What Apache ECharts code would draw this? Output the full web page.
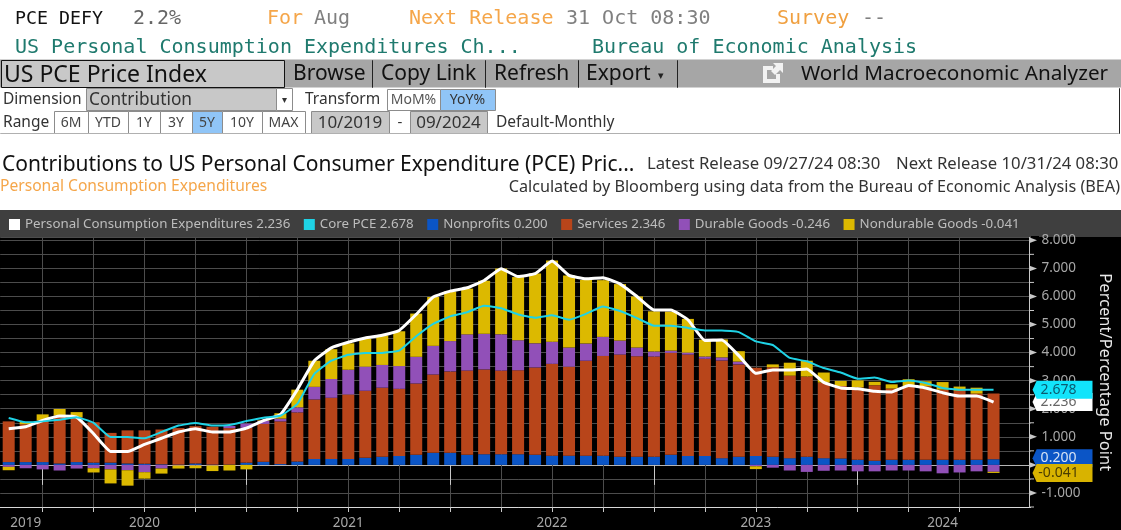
<!DOCTYPE html>
<html><head><meta charset="utf-8">
<style>html,body{margin:0;padding:0;background:#fff}#c{width:1121px;height:530px}</style>
<script src="https://cdn.jsdelivr.net/npm/echarts@6/dist/echarts.min.js"></script>
</head><body><div id="c"></div>
<script>
const months=['Oct 19','Nov 19','Dec 19','Jan 20','Feb 20','Mar 20','Apr 20','May 20','Jun 20','Jul 20','Aug 20','Sep 20','Oct 20','Nov 20','Dec 20','Jan 21','Feb 21','Mar 21','Apr 21','May 21','Jun 21','Jul 21','Aug 21','Sep 21','Oct 21','Nov 21','Dec 21','Jan 22','Feb 22','Mar 22','Apr 22','May 22','Jun 22','Jul 22','Aug 22','Sep 22','Oct 22','Nov 22','Dec 22','Jan 23','Feb 23','Mar 23','Apr 23','May 23','Jun 23','Jul 23','Aug 23','Sep 23','Oct 23','Nov 23','Dec 23','Jan 24','Feb 24','Mar 24','Apr 24','May 24','Jun 24','Jul 24','Aug 24'];
const nonprofits=[.10,.10,.10,.05,.10,.08,.08,.05,.04,.02,.01,.05,.01,.01,.08,.11,.03,.12,.21,.21,.21,.25,.29,.32,.36,.43,.43,.36,.38,.38,.38,.36,.33,.33,.33,.33,.29,.29,.29,.36,.32,.32,.24,.29,.32,.29,.24,.29,.24,.23,.18,.15,.18,.18,.18,.18,.18,.18,.200];
const services=[1.45,1.35,1.49,1.71,1.60,1.44,1.06,1.18,1.19,1.24,1.30,1.33,1.35,1.30,1.24,1.35,1.52,1.75,2.12,2.18,2.30,2.39,2.46,2.39,2.54,2.79,2.90,3.00,3.02,2.98,2.99,3.11,3.27,3.17,3.38,3.55,3.64,3.58,3.57,3.63,3.61,3.46,3.48,3.29,3.14,3.19,2.94,2.86,2.69,2.58,2.58,2.69,2.54,2.62,2.62,2.50,2.46,2.36,2.346];
const durable=[-.07,-.12,-.16,-.20,-.13,-.12,-.16,-.19,-.26,-.13,-.02,-.02,-.02,.08,.15,.11,.10,.18,.45,.67,.88,.86,.81,.81,.95,1.02,1.08,1.29,1.27,1.29,1.07,.86,.79,.68,.61,.68,.50,.31,.18,.08,.07,.08,.11,.10,-.05,-.10,-.20,-.25,-.21,-.20,-.23,-.23,-.20,-.20,-.23,-.30,-.27,-.23,-.246];
const nondurable=[-.12,.08,.21,.23,.18,-.15,-.50,-.55,-.23,-.18,-.11,-.10,-.20,-.20,-.16,.02,.19,.63,.93,1.06,.94,.99,1.05,1.24,1.54,1.74,1.77,1.63,1.89,2.35,2.25,2.49,2.89,2.57,2.27,2.02,2.01,1.82,1.43,1.39,1.20,.60,.64,.37,-.10,.10,.46,.56,.36,.18,.25,.12,.15,.25,.18,.27,.15,.21,-.041];
const pce=[1.29,1.36,1.58,1.74,1.70,1.11,.48,.48,.73,.95,1.17,1.29,1.17,1.17,1.31,1.58,1.79,2.68,3.71,4.17,4.37,4.52,4.62,4.79,5.36,5.98,6.19,6.31,6.57,6.99,6.71,6.81,7.26,6.75,6.63,6.67,6.45,6.00,5.52,5.52,5.17,4.43,4.45,3.89,3.26,3.38,3.38,3.42,2.94,2.74,2.71,2.62,2.60,2.83,2.74,2.57,2.45,2.45,2.236];
const corePce=[1.67,1.52,1.55,1.61,1.70,1.50,.99,.99,.95,1.17,1.40,1.49,1.40,1.42,1.56,1.68,1.75,2.17,3.24,3.71,3.92,3.99,3.99,4.07,4.58,5.02,5.29,5.44,5.67,5.58,5.36,5.24,5.33,5.17,5.38,5.64,5.48,5.23,4.96,4.96,4.88,4.79,4.79,4.73,4.40,4.27,3.81,3.69,3.45,3.29,3.07,3.11,2.95,3.01,2.92,2.74,2.68,2.68,2.678];
const latest={pce:'2.236',core:'2.678',nonprofits:'0.200',services:'2.346',durable:'-0.246',nondurable:'-0.041'};
const yearLabels=[['2019',1],['2020',8],['2021',20],['2022',32],['2023',44],['2024',55]];
const quarterTicks=[2,5,8,11,14,17,20,23,26,29,32,35,38,41,44,47,50,53,56];
const yearTicks=[2,14,26,38,50];
const integerTicks=[8,7,6,5,4,3,2,1,0,-1];
const halfTicks=[7.5,6.5,5.5,4.5,3.5,2.5,1.5,.5,-.5,-1.5];

const SANS='"Noto Sans"', MONO='"DejaVu Sans Mono"';
const RED='#b8451a',BLUE='#0b55c6',PURPLE='#9150b8',GOLD='#dcb900',CYAN='#1fd3e6';
const axisCats=months.concat(['','']);   // two empty bands run the scale out to the value axis
const AXIS_IDX=60;                       // the band the value axis sits in
const g=[];
const T=(x,y,text,fill,size,font,align)=>g.push({type:'text',x,y,z:1,style:{text,fill,font:size+'px '+(font||SANS),textAlign:align||'left',textVerticalAlign:'middle'}});
const R=(x0,y0,x1,y1,fill,stroke)=>g.push({type:'rect',z:0,shape:{x:x0+.5,y:y0+.5,width:x1-x0,height:y1-y0},style:{fill,stroke:stroke||null,lineWidth:1}});
const B=(x0,x1,y0,y1,label,fill,size,color)=>{R(x0,y0,x1,y1,fill,'#8c8c8c');T((x0+x1)/2,(y0+y1)/2+1,label,color||'#333',size||14,SANS,'center');};

// quote lines
T(15,19,'PCE DEFY','#111',18.3,MONO);T(133,19,'2.2%','#666',20,MONO);
T(267,19,'For','#f5a64a',20,MONO);T(314,19,'Aug','#808080',20,MONO);
T(409,19,'Next Release','#f5a64a',20,MONO);T(566,19,'31 Oct 08:30','#808080',20,MONO);
T(777,19,'Survey','#f0a040',20,MONO);T(862,19,'--','#808080',20,MONO);
T(15,47.5,'US Personal Consumption Expenditures Ch...','#1f7a6e',20,MONO);
T(592,47.5,'Bureau of Economic Analysis','#1f7a6e',20,MONO);
// toolbar
R(-1,59,1122,87,'#a6a6a6');
R(1,60,284,87,'#c8c8c8','#111');
T(4,75,'US PCE Price Index','#111',23);
T(293,74.5,'Browse','#111',21);T(381,74.5,'Copy Link','#111',21);T(494,74.5,'Refresh','#111',21);T(586,74.5,'Export','#111',21);
T(658,76,'▾','#222',11);
[372,485,578,677].forEach(x=>R(x,60,x,87,null,'#222'));
g.push({type:'polyline',z:1,shape:{points:[[773,68],[765,68],[765,81],[778,81],[778,74]]},style:{stroke:'#f2f2f2',fill:null,lineWidth:4}});
g.push({type:'polygon',z:1,shape:{points:[[773,63],[783,63],[783,73],[780,70],[775,75],[771,71],[776,66]]},style:{fill:'#f2f2f2'}});
T(801,74.5,'World Macroeconomic Analyzer','#111',20.7);
// dimension row
T(3,100,'Dimension','#333',15.5);
R(86,88,276,110,'#c8c8c8','#8c8c8c');T(89,100,'Contribution','#333',17.3);
R(276,88,292,110,'#fff','#8c8c8c');T(284,100,'▾','#333',10,SANS,'center');
T(305,100,'Transform','#333',15.5);
B(387,440,89,110,'MoM%','#fff',14,'#555');B(440,495,89,110,'YoY%','#90c5f7',14,'#333');
// range row
T(3,123,'Range','#333',15.5);
[[54,88,'6M',0],[88,128,'YTD',0],[128,160,'1Y',0],[160,192,'3Y',0],[192,222,'5Y',1],[222,262,'10Y',0],[262,305,'MAX',0]].forEach(b=>B(b[0],b[1],111,133,b[2],b[3]?'#90c5f7':'#fff',14,'#444'));
R(311,111,389,133,'#c8c8c8','#8c8c8c');T(350,123,'10/2019','#333',17,SANS,'center');
T(400,123,'-','#333',15,SANS,'center');
R(410,111,487,133,'#c8c8c8','#8c8c8c');T(448.5,123,'09/2024','#333',17,SANS,'center');
T(496,123,'Default-Monthly','#333',15.5);
R(0,133,1118,133,null,'#b0b0b0');R(1119,88,1119,133,null,'#222');
// titles
T(2,165,'Contributions to US Personal Consumer Expenditure (PCE) Pric...','#111',21);
T(647,164,'Latest Release 09/27/24 08:30','#333',16.7);
T(896,164,'Next Release 10/31/24 08:30','#333',16.7);
T(0,187,'Personal Consumption Expenditures','#f5a64a',15.6);
T(1120,187,'Calculated by Bloomberg using data from the Bureau of Economic Analysis (BEA)','#333',16.2,SANS,'right');
// dark panels
g.push({type:'rect',z:-10,shape:{x:0,y:237,width:1121,height:293},style:{fill:'#000'}});
g.push({type:'rect',z:-10,shape:{x:0,y:210,width:1121,height:27},style:{fill:'#3f3f3f'}});
// the axis frame stops at the value axis: mask the spare band to its right
g.push({type:'rect',z:1,shape:{x:1031,y:236,width:8,height:274},style:{fill:'#000'}});

const bar=(name,data,color)=>({name,type:'bar',stack:'c',barWidth:12,data,itemStyle:{color},z:2,silent:true});
const line=(name,data,color,width,z)=>({name,type:'line',data,smooth:.12,symbol:'none',z,lineStyle:{color,width},itemStyle:{color},silent:true});
const tag=(name,val,color,text,dy,z)=>({name,type:'scatter',z,clip:false,silent:true,
  data:[[AXIS_IDX,+val]],symbol:'path://M4 0L58 0L58 17L4 17L0 8.5Z',symbolSize:[60,18],symbolKeepAspect:false,symbolOffset:[35,dy],
  itemStyle:{color,opacity:1},label:{show:true,position:'inside',formatter:val,color:text,fontFamily:SANS,fontSize:14,offset:[-4,0]}});
const ser=[
  bar('Nonprofits',nonprofits,BLUE),bar('Services',services,RED),bar('Durable Goods',durable,PURPLE),bar('Nondurable Goods',nondurable,GOLD),
  line('Personal Consumption Expenditures',pce,'#fff',3,4),line('Core PCE',corePce,CYAN,2,5),
  {name:'intTicks',type:'scatter',z:3,clip:false,silent:true,data:integerTicks.map(v=>[AXIS_IDX,v]),symbol:'path://M0 0L8 3L0 6Z',symbolSize:[8,6],symbolOffset:[5.5,0],itemStyle:{color:'#c8c8c8',opacity:1}},
  {name:'halfTicks',type:'scatter',z:3,clip:false,silent:true,data:halfTicks.map(v=>[AXIS_IDX,v]),symbol:'rect',symbolSize:[5,1],symbolOffset:[4,0],itemStyle:{color:'#c8c8c8',opacity:1}},
  tag('tagPce',latest.pce,'#fff','#666',0,6),tag('tagCore',latest.core,'#12e4fb','#0b5a70',0,7),
  tag('tagNp',latest.nonprofits,BLUE,'#d8e4f5',-1,8),tag('tagNd',latest.nondurable,'#d8b300','#4a3d00',7,9)
];
const names=['Personal Consumption Expenditures','Core PCE','Nonprofits','Services','Durable Goods','Nondurable Goods'];
const vals={'Personal Consumption Expenditures':latest.pce,'Core PCE':latest.core,'Nonprofits':latest.nonprofits,'Services':latest.services,'Durable Goods':latest.durable,'Nondurable Goods':latest.nondurable};
const gridColours=Array.from({length:21},(_,i)=>i===3?'#b5b5b5':'#4c4c4c');   // fourth line is y=0

const chart=echarts.init(document.getElementById('c'));
chart.setOption({animation:false,backgroundColor:'#fff',graphic:{elements:g},
  legend:{left:9,top:218,padding:0,itemWidth:11,itemHeight:11,itemGap:13.5,icon:'rect',data:names,selectedMode:false,
    formatter:n=>n+' '+vals[n],textStyle:{color:'#bdbdbd',fontFamily:SANS,fontSize:13.3}},
  grid:{left:0.2,width:1037,top:237.5,bottom:23,show:false},
  xAxis:[{type:'category',data:axisCats,position:'bottom',boundaryGap:true,
      axisLine:{onZero:false,lineStyle:{color:'#d8d8d8',width:1}},
      axisTick:{show:true,length:5,alignWithLabel:true,interval:i=>quarterTicks.includes(i),lineStyle:{color:'#c8c8c8'}},
      splitLine:{show:true,alignWithLabel:true,interval:i=>quarterTicks.includes(i),lineStyle:{color:'#4c4c4c',width:1}},
      axisLabel:{show:true,interval:i=>yearLabels.some(d=>d[1]===i),formatter:(v,i)=>(yearLabels.find(d=>d[1]===i)||[''])[0],color:'#a8a8a8',fontFamily:SANS,fontSize:13.5,margin:9}},
    {type:'category',data:axisCats,position:'bottom',boundaryGap:true,
      axisLine:{show:false},axisLabel:{show:false},splitLine:{show:false},
      axisTick:{show:true,length:20,alignWithLabel:true,interval:i=>yearTicks.includes(i),lineStyle:{color:'#c8c8c8'}}}],
  yAxis:{type:'value',min:-1.5,max:8.1,interval:.5,position:'right',offset:-7,
    axisLine:{show:true,onZero:false,lineStyle:{color:'#c8c8c8',width:1}},
    axisTick:{show:false},
    splitLine:{show:true,lineStyle:{color:gridColours,width:1}},
    axisLabel:{show:true,customValues:integerTicks,formatter:v=>v.toFixed(3),color:'#a8a8a8',fontFamily:SANS,fontSize:13.5,margin:12.5,align:'left'},
    name:'Percent/Percentage Point',nameLocation:'middle',nameRotate:-90,nameGap:67,nameTextStyle:{color:'#e8e8e8',fontFamily:SANS,fontSize:16.5}},
  series:ser});
</script></body></html>
